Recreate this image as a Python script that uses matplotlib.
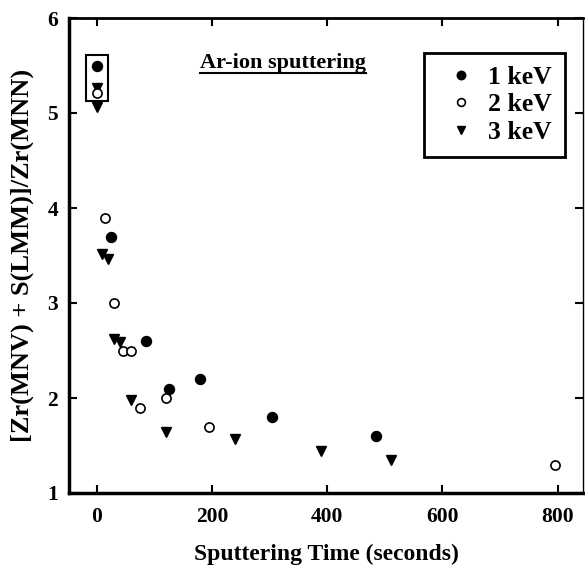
import matplotlib
matplotlib.use("Agg")
import matplotlib.pyplot as plt
from matplotlib.patches import Rectangle

# Data
x_1kev = [0, 25, 85, 125, 180, 305, 485]
y_1kev = [5.5, 3.7, 2.6, 2.1, 2.2, 1.8, 1.6]
x_2kev = [0, 15, 30, 45, 60, 75, 120, 195, 795]
y_2kev = [5.21, 3.9, 3.0, 2.5, 2.5, 1.9, 2.0, 1.7, 1.29]
x_3kev = [0, 0, 10, 20, 30, 40, 60, 120, 240, 390, 510]
y_3kev = [5.26, 5.06, 3.52, 3.46, 2.62, 2.59, 1.98, 1.64, 1.57, 1.44, 1.35]
labels = ["1 keV", "2 keV", "3 keV"]
xticks = [0, 200, 400, 600, 800]
yticks = [1, 2, 3, 4, 5, 6]

plt.rcParams['font.family'] = ['Liberation Serif', 'DejaVu Serif']
plt.rcParams['font.weight'] = 'bold'

fig = plt.figure(figsize=(5.85, 5.69), dpi=100)
ax = fig.add_axes([69/585, 76/569, (583-69)/585, (493-18)/569])

ms = 7.2
ax.plot(x_1kev, y_1kev, 'o', color='black', ms=ms, label=labels[0], zorder=3)
ax.plot(x_2kev, y_2kev, 'o', mfc='white', mec='black', mew=1.2, ms=ms-0.6, label=labels[1], zorder=4)
ax.plot(x_3kev, y_3kev, 'v', color='black', ms=ms, label=labels[2], zorder=3)

ax.add_patch(Rectangle((-18.5, 5.13), 37.5, 0.48, fill=False, lw=1.5, ec='black', zorder=5))

ax.set_xlim(-48, 844)
ax.set_ylim(1, 6)
ax.set_xticks(xticks)
ax.set_yticks(yticks)
ax.tick_params(axis='both', direction='in', length=6, width=1.5, labelsize=15.5,
               top=True, right=True)
ax.tick_params(axis='x', pad=10)
ax.tick_params(axis='y', pad=8)
for lab in ax.get_xticklabels() + ax.get_yticklabels():
    lab.set_fontweight('bold')

for side, lw in [('left', 2.5), ('bottom', 2.5), ('top', 2.0), ('right', 1.0)]:
    ax.spines[side].set_linewidth(lw)

ax.set_xlabel("Sputtering Time (seconds)", fontsize=17, fontweight='bold', labelpad=12)
ax.set_ylabel("[Zr(MNV) + S(LMM)]/Zr(MNN)", fontsize=19, fontweight='bold')
ax.yaxis.set_label_coords(-0.068, 0.5)

ax.text(0.255, 0.895, "Ar-ion sputtering", transform=ax.transAxes, fontsize=16,
        fontweight='bold', ha='left', va='baseline')
ax.plot([0.255, 0.578], [0.884, 0.884], transform=ax.transAxes, color='black', lw=1.5)

leg = ax.legend(loc='upper right', bbox_to_anchor=(0.965, 0.926), prop={'size': 18.5, 'weight': 'bold'},
                fancybox=False, edgecolor='black', framealpha=1, handletextpad=0.1,
                borderpad=0.5, labelspacing=0.17, handlelength=1.9, markerscale=0.85,
                borderaxespad=0)
leg.get_frame().set_linewidth(2.0)

fig.savefig("out.png", dpi=100)
